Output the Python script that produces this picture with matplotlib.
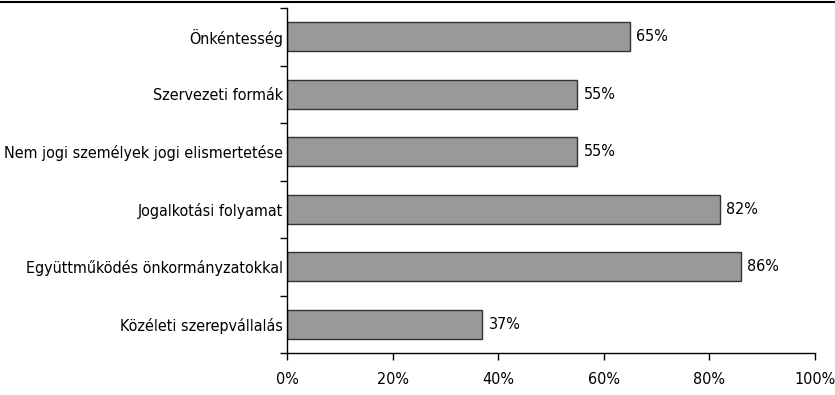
import matplotlib
matplotlib.use("Agg")
import matplotlib.pyplot as plt
from matplotlib.lines import Line2D
import numpy as np

plt.rcParams['font.family'] = ['DejaVu Sans']
plt.rcParams['font.stretch'] = 'condensed'

# bottom to top
categories = [
    "Közéleti szerepvállalás",
    "Együttműködés önkormányzatokkal",
    "Jogalkotási folyamat",
    "Nem jogi személyek jogi elismertetése",
    "Szervezeti formák",
    "Önkéntesség",
]
values = [37, 86, 82, 55, 55, 65]
xticks = [0, 20, 40, 60, 80, 100]

fig = plt.figure(figsize=(8.35, 3.95), dpi=100)
ax = fig.add_axes([287 / 835, 1 - 353 / 395, 528 / 835, 345 / 395])

fs = 11.5
y = np.arange(len(categories))
ax.barh(y, values, height=0.5, color="#999999", edgecolor="#333333", linewidth=1)
for yi, v in zip(y, values):
    ax.annotate(f"{v}%", (v, yi), xytext=(4.5, 0), textcoords="offset points",
                va="center", ha="left", fontsize=fs)

ax.set_xlim(0, 100)
ax.set_ylim(-0.5, len(categories) - 0.5)
ax.set_xticks(xticks)
ax.set_xticklabels([f"{t}%" for t in xticks], fontsize=fs)
ax.set_yticks(y)
ax.set_yticklabels(categories, fontsize=fs)
ax.set_yticks(np.arange(-0.5, len(categories), 1), minor=True)
ax.tick_params(axis="y", which="major", length=0, pad=3)
ax.tick_params(axis="y", which="minor", length=5, width=1, direction="out")
ax.tick_params(axis="x", length=5, width=1, direction="out", pad=9)
ax.tick_params(axis="x", which="minor", length=0)

for s in ("top", "right"):
    ax.spines[s].set_visible(False)
for s in ("left", "bottom"):
    ax.spines[s].set_linewidth(1)

fig.add_artist(Line2D([0, 1], [1 - 1.5 / 395, 1 - 1.5 / 395], color="black", linewidth=1.5))

fig.savefig("out.png", dpi=100)
